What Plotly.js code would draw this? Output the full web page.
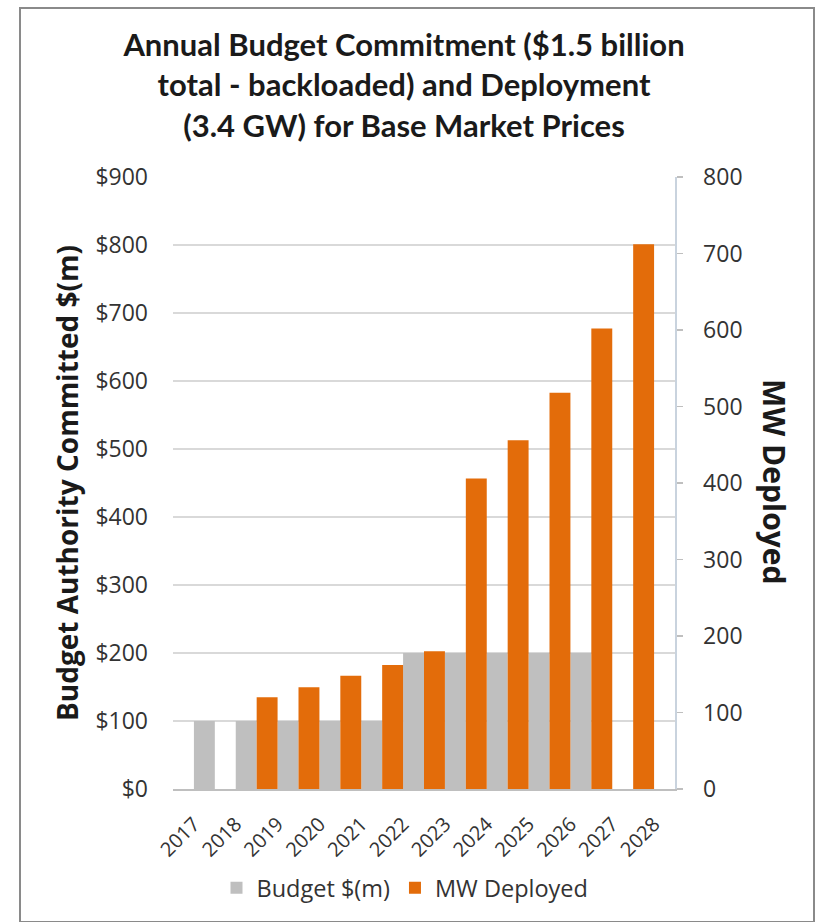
<!DOCTYPE html>
<html>
<head>
<meta charset="utf-8">
<script src="https://cdn.plot.ly/plotly-3.0.1.min.js"></script>
<style>
  html, body { margin: 0; padding: 0; background: #ffffff; }
  #chart { position: absolute; left: 0; top: 0; width: 817px; height: 922px; }
  #frame { position: absolute; left: 19px; top: 7px; width: 792px; height: 912px;
           border: 2px solid #8a8a8a; pointer-events: none; }
</style>
</head>
<body>
<div id="chart"></div>
<div id="frame"></div>
<script>
const years = ['2017','2018','2019','2020','2021','2022','2023','2024','2025','2026','2027','2028'];
const budget = [100, 100, 100, 100, 100, 200, 200, 200, 200, 200, 0, 0];
const mwDeployed = [0, 0, 120, 133, 148, 162, 180, 406, 456, 518, 602, 712];
const budgetTicks = [0, 100, 200, 300, 400, 500, 600, 700, 800, 900];
const mwTicks = [0, 100, 200, 300, 400, 500, 600, 700, 800];

const TITLE_FONT = 'Lato, "Open Sans", sans-serif';
const FONT = '"Open Sans", Lato, sans-serif';

const traces = [
  {
    type: 'bar', name: 'Budget $(m)', x: years, y: budget, yaxis: 'y',
    width: 0.5, offset: 0,
    marker: { color: '#bfbfbf', line: { width: 0 } },
    hoverinfo: 'x+y'
  },
  {
    type: 'bar', name: 'MW Deployed', x: years, y: mwDeployed, yaxis: 'y2',
    width: 0.5, offset: -0.5,
    marker: { color: '#e36c0a', line: { width: 0 } },
    hoverinfo: 'x+y'
  }
];

const layout = {
  width: 817, height: 922,
  paper_bgcolor: '#ffffff', plot_bgcolor: '#ffffff',
  margin: { l: 173, r: 142, t: 177, b: 133, pad: 0 },
  barmode: 'overlay',
  font: { family: FONT, color: '#333333' },
  title: {
    text: 'Annual Budget Commitment ($1.5 billion<br>total - backloaded) and Deployment<br>(3.4 GW) for Base Market Prices',
    font: { family: TITLE_FONT, size: 31, color: '#1a1a1a', weight: 'bold' },
    x: 404 / 817, xanchor: 'center',
    y: 1 - 56 / 922, yanchor: 'middle', yref: 'container'
  },
  xaxis: {
    type: 'category', categoryorder: 'array', categoryarray: years,
    tickangle: -45, tickfont: { family: FONT, size: 20, color: '#333333' },
    showgrid: false, zeroline: false,
    showline: true, linecolor: '#bfbfbf', linewidth: 1.5,
    ticks: '', ticklabelstandoff: 14
  },
  yaxis: {
    range: [0, 900], tickvals: budgetTicks, ticktext: budgetTicks.map(v => '$' + v),
    tickfont: { family: FONT, size: 23, color: '#333333' },
    showgrid: true, gridcolor: '#d9d9d9', gridwidth: 1.5,
    zeroline: false, showline: false, ticks: '',
    ticklabelstandoff: 24,
    title: {
      text: 'Budget Authority Committed $(m)',
      font: { family: FONT, size: 28, color: '#1a1a1a', weight: 'bold' },
      standoff: 8
    }
  },
  yaxis2: {
    overlaying: 'y', side: 'right', anchor: 'x',
    range: [0, 800], tickvals: mwTicks,
    tickfont: { family: FONT, size: 23, color: '#333333' },
    showgrid: false, zeroline: false,
    showline: true, linecolor: '#c9d3de', linewidth: 1.5,
    ticks: 'outside', ticklen: 6, tickcolor: '#bfbfbf', tickwidth: 1.5,
    ticklabelstandoff: 16
  },
  legend: {
    orientation: 'h', x: (405 - 173) / 502, xanchor: 'center',
    y: (789 - 888) / 612, yanchor: 'middle',
    font: { family: FONT, size: 23.5, color: '#333333' },
    traceorder: 'normal', itemwidth: 30
  },
  annotations: [
    {
      text: 'MW Deployed', textangle: 90,
      xref: 'paper', yref: 'paper',
      x: (775 - 173) / 502, y: (789 - 482) / 612,
      xanchor: 'center', yanchor: 'middle', showarrow: false,
      font: { family: FONT, size: 30, color: '#1a1a1a', weight: 'bold' }
    }
  ]
};

Plotly.newPlot('chart', traces, layout, { displayModeBar: false, staticPlot: true });
</script>
</body>
</html>
